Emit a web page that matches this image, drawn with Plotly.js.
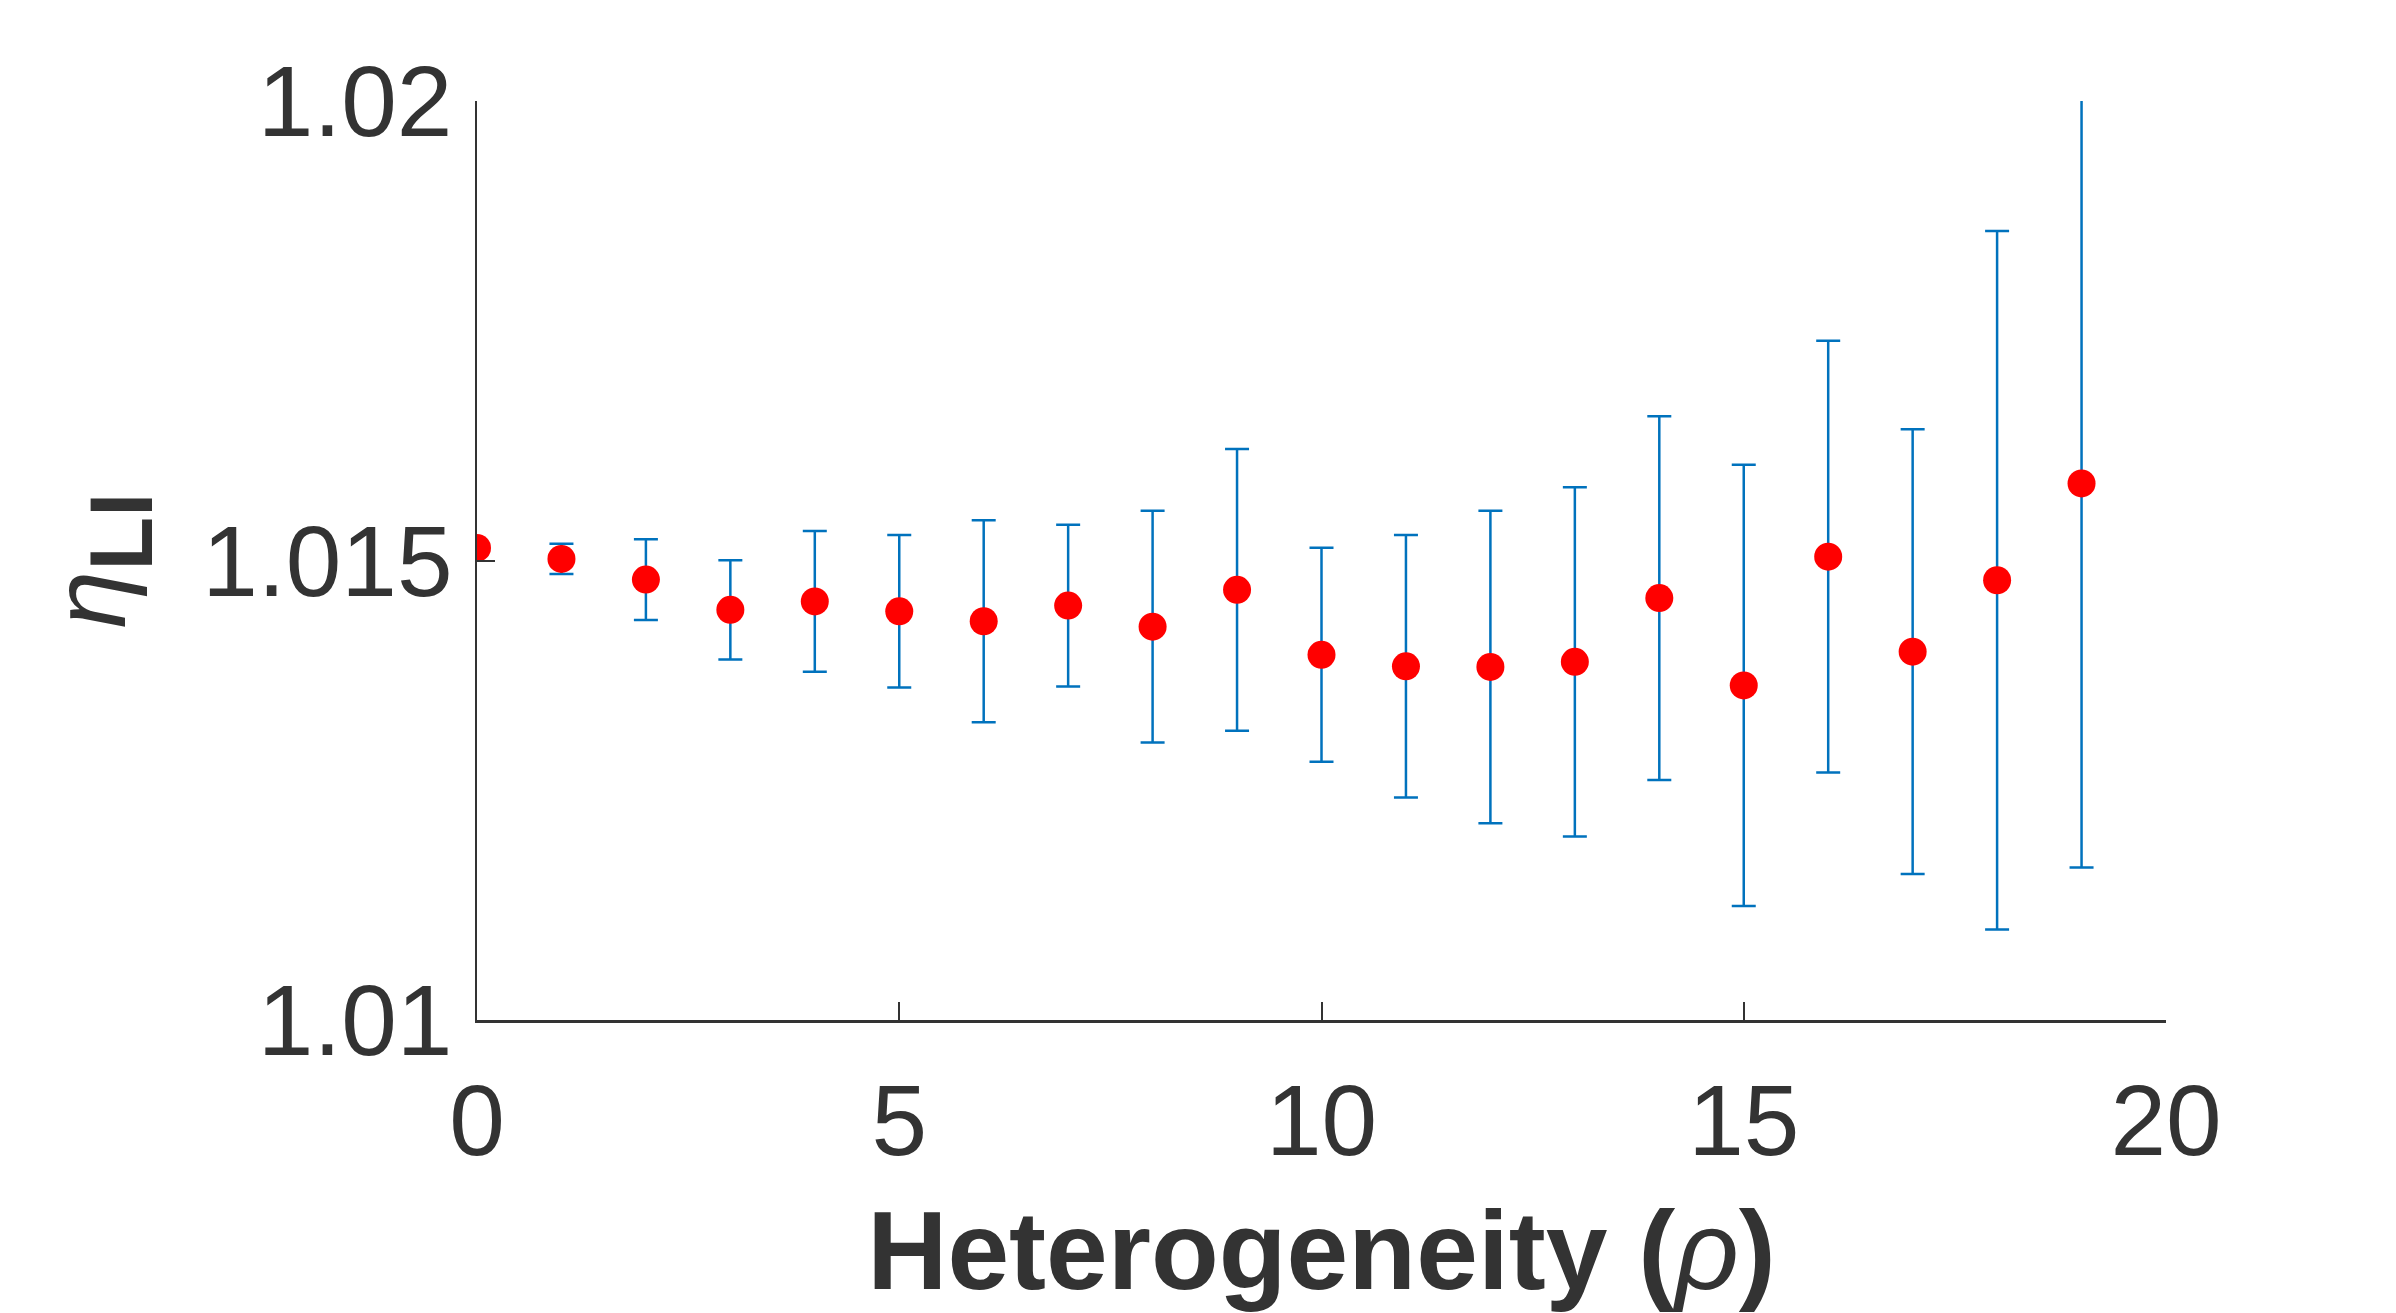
<!DOCTYPE html>
<html>
<head>
<meta charset="utf-8">
<script src="https://cdn.plot.ly/plotly-3.0.1.min.js"></script>
<style>
  html, body { margin: 0; padding: 0; background: #fff; }
  #chart { width: 2396px; height: 1313px; }
</style>
</head>
<body>
<div id="chart"></div>
<script>
// heterogeneity levels and measured eta_LI (mean +/- spread)
const rho = [0, 1, 2, 3, 4, 5, 6, 7, 8, 9, 10, 11, 12, 13, 14, 15, 16, 17, 18, 19];
const etaMean = [1.015137, 1.015017, 1.014792, 1.014463, 1.014555, 1.014447, 1.014339, 1.014509, 1.014280, 1.014681,
                 1.013974, 1.013849, 1.013842, 1.013897, 1.014591, 1.013641, 1.015042, 1.014008, 1.014785, 1.015839];
const etaErr = [0.000025, 0.000165, 0.000440, 0.000540, 0.000765, 0.000830, 0.001100, 0.000880, 0.001260, 0.001533,
                0.001165, 0.001428, 0.001700, 0.001900, 0.001980, 0.002400, 0.002350, 0.002420, 0.003800, 0.004180];
const xTicks = [0, 5, 10, 15, 20];
const yTicks = [1.01, 1.015, 1.02];

const INK = '#333333';
const FONT = 'Liberation Sans, Arial, Helvetica, sans-serif';

const trace = {
  x: rho, y: etaMean, type: 'scatter', mode: 'markers',
  marker: { color: '#ff0000', size: 28 },
  error_y: { type: 'data', array: etaErr, visible: true, color: '#0072BD', thickness: 2.5, width: 12 },
  hovertemplate: '\u03c1 = %{x}<br>\u03b7 = %{y:.5f}<extra></extra>',
};

const layout = {
  width: 2396, height: 1313,
  margin: { l: 477, r: 230, t: 101, b: 293 },
  paper_bgcolor: '#ffffff', plot_bgcolor: '#ffffff',
  showlegend: false,
  font: { family: FONT, color: INK },
  xaxis: {
    range: [0, 20], tickvals: xTicks, ticktext: xTicks.map(String),
    showline: true, linecolor: INK, linewidth: 2.5, mirror: false,
    ticks: 'inside', ticklen: 18, tickwidth: 2, tickcolor: INK,
    showgrid: false, zeroline: false,
    tickfont: { size: 100, color: INK }, ticklabelstandoff: 12,
    title: { text: '<b>Heterogeneity (</b><i>\u03c1</i><b>)</b>', font: { size: 111, color: INK }, standoff: 38 },
  },
  yaxis: {
    range: [1.01, 1.02], tickvals: yTicks, ticktext: ['1.01', '1.015', '1.02'],
    showline: true, linecolor: INK, linewidth: 2.5, mirror: false,
    ticks: 'inside', ticklen: 18, tickwidth: 2, tickcolor: INK,
    showgrid: false, zeroline: false,
    tickfont: { size: 100, color: INK }, ticklabelstandoff: 2,
    title: {
      text: '<span style="font-size:104px"><i>\u03b7</i></span><sub><b>LI</b></sub>',
      font: { size: 126, color: INK }, standoff: 34,
    },
  },
};

Plotly.newPlot('chart', [trace], layout, { displayModeBar: false, staticPlot: true });
</script>
</body>
</html>
